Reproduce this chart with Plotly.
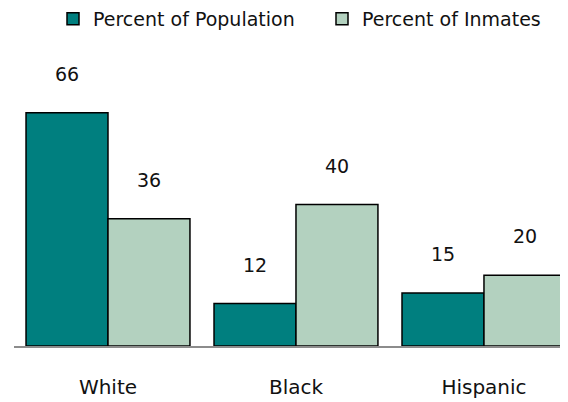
import plotly.graph_objects as go

categories = ["White", "Black", "Hispanic"]
pct_population = [66, 12, 15]
pct_inmates = [36, 40, 20]
series_names = ["Percent of Population", "Percent of Inmates"]

FONT = "DejaVu Sans"
fig = go.Figure()
fig.add_trace(go.Bar(x=categories, y=pct_population, name=series_names[0], legend="legend",
                     marker=dict(color="#007F7F", line=dict(color="#000000", width=1.5))))
fig.add_trace(go.Bar(x=categories, y=pct_inmates, name=series_names[1], legend="legend2",
                     marker=dict(color="#B3D1BF", line=dict(color="#000000", width=1.5))))

for c, v in zip(categories, pct_population):
    fig.add_annotation(x=c, y=v, text=str(v), showarrow=False, xshift=-41, yshift=39,
                       yanchor="middle", font=dict(family=FONT, size=19, color="#111"))
for c, v in zip(categories, pct_inmates):
    fig.add_annotation(x=c, y=v, text=str(v), showarrow=False, xshift=41, yshift=39,
                       yanchor="middle", font=dict(family=FONT, size=19, color="#111"))

legend_style = dict(orientation="h", xref="container", y=1.21, yanchor="top",
                    xanchor="left", font=dict(size=19), bgcolor="rgba(0,0,0,0)")

fig.update_layout(
    width=560, height=394,
    margin=dict(l=6, r=0, t=52, b=56, autoexpand=False),
    paper_bgcolor="white", plot_bgcolor="white",
    barmode="group", bargap=0.128, bargroupgap=0,
    font=dict(family=FONT, size=19, color="#111"),
    showlegend=True,
    legend=dict(x=45 / 560, **legend_style),
    legend2=dict(x=314 / 560, **legend_style),
    xaxis=dict(range=[-0.5, 2.447], showline=True, linecolor="#8c8c8c", linewidth=1.5,
               ticks="", showgrid=False, ticklabelstandoff=22,
               tickfont=dict(size=20)),
    yaxis=dict(range=[0, 80.9], visible=False, showgrid=False),
)
fig.write_html("out.html")
